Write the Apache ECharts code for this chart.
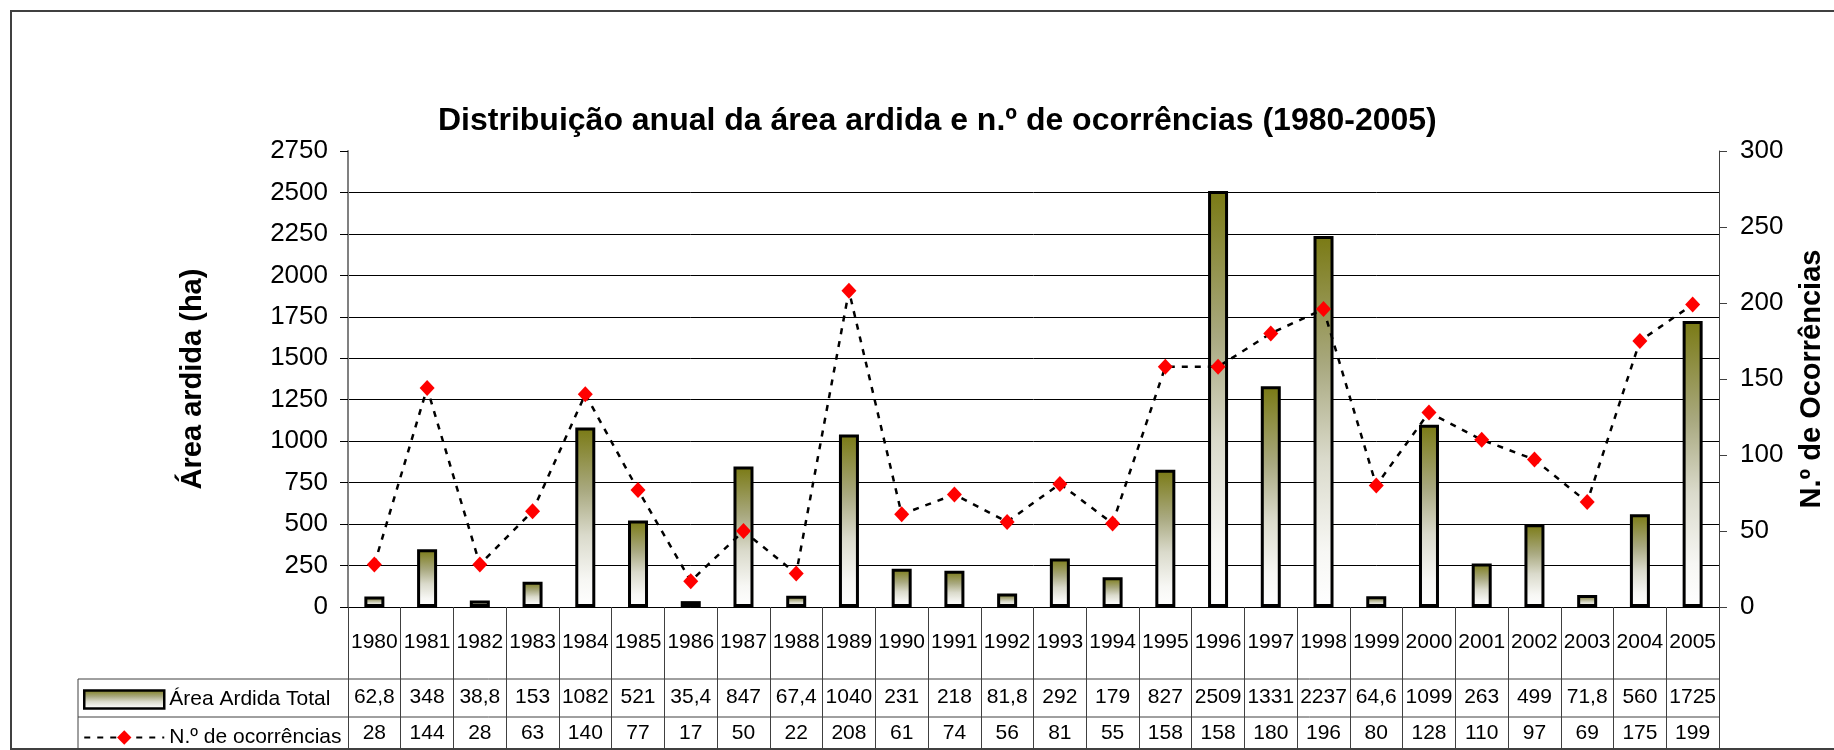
<!DOCTYPE html>
<html>
<head>
<meta charset="utf-8">
<script src="https://cdn.jsdelivr.net/npm/echarts@6/dist/echarts.min.js"></script>
<style>
  html, body { margin: 0; padding: 0; background: #fff; }
  #chart { width: 1834px; height: 750px; }
</style>
</head>
<body>
<div id="chart"></div>
<script>
// dados
const years = ['1980', '1981', '1982', '1983', '1984', '1985', '1986', '1987', '1988', '1989', '1990', '1991', '1992',
  '1993', '1994', '1995', '1996', '1997', '1998', '1999', '2000', '2001', '2002', '2003', '2004', '2005']
const areaArdida = [62.8, 348, 38.8, 153, 1082, 521, 35.4, 847, 67.4, 1040, 231, 218, 81.8,
  292, 179, 827, 2509, 1331, 2237, 64.6, 1099, 263, 499, 71.8, 560, 1725]
const ocorrencias = [28, 144, 28, 63, 140, 77, 17, 50, 22, 208, 61, 74, 56,
  81, 55, 158, 158, 180, 196, 80, 128, 110, 97, 69, 175, 199]

const FONT = 'Arial, "Liberation Sans", sans-serif'
const fmt = v => String(v).replace('.', ',')

// posições da grelha / tabela
const GRID_LEFT = 348
const GRID_RIGHT = 1720
const TABLE_LEFT = 78
const ROW2_Y = 679
const ROW3_Y = 717

const chart = echarts.init(document.getElementById('chart'))

// gradiente das barras (oliva -> branco)
const barColor = new echarts.graphic.LinearGradient(0, 0, 0, 1, [
  { offset: 0, color: '#7a7a14' },
  { offset: 0.35, color: '#a9a980' },
  { offset: 0.6, color: '#dadacb' },
  { offset: 0.85, color: '#f7f7f4' },
  { offset: 1, color: '#ffffff' }
])

// eixo de categorias usado como linha de texto da tabela
const tableAxis = (offset, margin, values) => ({
  type: 'category',
  data: years,
  position: 'bottom',
  offset: offset,
  boundaryGap: true,
  axisLine: { show: false, onZero: false },
  axisTick: { show: false },
  axisLabel: {
    interval: 0,
    margin: margin,
    fontFamily: FONT,
    fontSize: 21,
    color: '#000',
    formatter: (v, i) => fmt(values[i])
  },
  splitLine: { show: false }
})

const option = {
  animation: false,
  backgroundColor: '#fff',
  title: {
    text: 'Distribuição anual da área ardida e n.º de ocorrências (1980-2005)',
    left: 433,
    top: 100,
    textStyle: { fontFamily: FONT, fontSize: 32, fontWeight: 'bold', color: '#000' }
  },
  legend: {
    orient: 'vertical',
    left: 83,
    top: 689,
    padding: 0,
    itemWidth: 80,
    itemHeight: 18,
    itemGap: 17,
    textStyle: { fontFamily: FONT, fontSize: 21, lineHeight: 18, color: '#000' },
    data: [
      { name: 'Área Ardida Total', icon: 'rect', itemStyle: { borderColor: '#000', borderWidth: 2.5 } },
      { name: 'N.º de ocorrências' }
    ]
  },
  grid: { left: GRID_LEFT, right: 1834 - GRID_RIGHT, top: 151, bottom: 143 },
  xAxis: [
    {
      type: 'category',
      data: years,
      position: 'bottom',
      boundaryGap: true,
      axisLine: { show: true, onZero: false, lineStyle: { color: '#000', width: 1 } },
      // as marcas descem até ao fundo e fazem as divisórias da tabela
      axisTick: { show: true, length: 145, interval: 0, lineStyle: { color: '#404040', width: 1 } },
      axisLabel: { interval: 0, margin: 25, fontFamily: FONT, fontSize: 21, color: '#000' },
      splitLine: { show: false }
    },
    tableAxis(72, 8, areaArdida),
    tableAxis(110, 6, ocorrencias)
  ],
  yAxis: [
    {
      type: 'value',
      min: 0,
      max: 2750,
      interval: 250,
      name: 'Área ardida (ha)',
      nameLocation: 'middle',
      nameRotate: 90,
      nameGap: 141,
      nameTextStyle: { fontFamily: FONT, fontSize: 29, fontWeight: 'bold', color: '#000' },
      axisLine: { show: true, lineStyle: { color: '#808080', width: 2 } },
      axisTick: { show: true, length: 8, lineStyle: { color: '#000', width: 1 } },
      axisLabel: { margin: 20, fontFamily: FONT, fontSize: 26, color: '#000', formatter: v => String(v) },
      splitLine: { show: true, showMaxLine: false, lineStyle: { color: '#000', width: 1 } }
    },
    {
      type: 'value',
      position: 'right',
      min: 0,
      max: 300,
      interval: 50,
      name: 'N.º de Ocorrências',
      nameLocation: 'middle',
      nameRotate: 90,
      nameGap: 78,
      nameTextStyle: { fontFamily: FONT, fontSize: 29, fontWeight: 'bold', color: '#000' },
      axisLine: { show: true, lineStyle: { color: '#404040', width: 1 } },
      axisTick: { show: true, length: 8, lineStyle: { color: '#404040', width: 1 } },
      axisLabel: { margin: 21, fontFamily: FONT, fontSize: 26, color: '#000', formatter: v => String(v) },
      splitLine: { show: false }
    }
  ],
  series: [
    {
      name: 'Área Ardida Total',
      type: 'bar',
      xAxisIndex: 0,
      yAxisIndex: 0,
      data: areaArdida,
      barWidth: 20,
      itemStyle: { color: barColor, borderColor: '#000', borderWidth: 3 },
      z: 2
    },
    {
      name: 'N.º de ocorrências',
      type: 'line',
      xAxisIndex: 0,
      yAxisIndex: 1,
      data: ocorrencias,
      symbol: 'diamond',
      symbolSize: [15, 16],
      itemStyle: { color: '#ff0000' },
      lineStyle: { color: '#000', width: 2.5, type: [6, 7] },
      z: 3
    }
  ],
  graphic: [
    // moldura exterior
    { type: 'rect', shape: { x: 11, y: 11, width: 1830, height: 738 }, style: { fill: 'none', stroke: '#404040', lineWidth: 2 }, z: 0 },
    // linhas da tabela
    { type: 'line', shape: { x1: TABLE_LEFT, y1: ROW2_Y, x2: GRID_RIGHT, y2: ROW2_Y }, style: { stroke: '#404040', lineWidth: 1 } },
    { type: 'line', shape: { x1: TABLE_LEFT, y1: ROW3_Y, x2: GRID_RIGHT, y2: ROW3_Y }, style: { stroke: '#404040', lineWidth: 1 } },
    { type: 'line', shape: { x1: TABLE_LEFT, y1: ROW2_Y, x2: TABLE_LEFT, y2: 750 }, style: { stroke: '#404040', lineWidth: 1 } }
  ]
}

chart.setOption(option)
</script>
</body>
</html>
